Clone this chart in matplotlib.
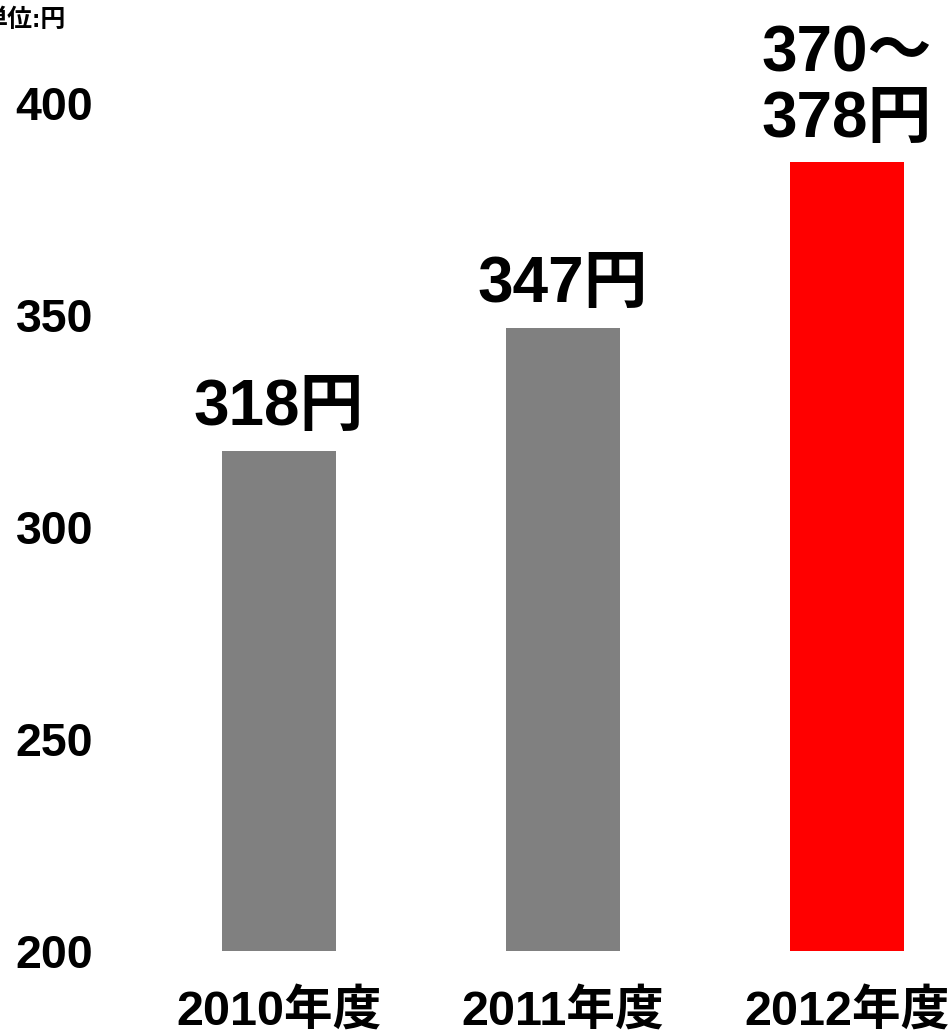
import matplotlib
matplotlib.use("Agg")
import matplotlib.pyplot as plt

plt.rcParams['font.family'] = ['Liberation Sans', 'Noto Sans CJK JP', 'DejaVu Sans']
plt.rcParams['font.weight'] = 'bold'

# data
years = ["2010年度", "2011年度", "2012年度"]
values = [318, 347, 386]
value_labels = ["318円", "347円", "370～\n378円"]
colors = ["#808080", "#808080", "#FF0000"]
yticks = [200, 250, 300, 350, 400]

fig = plt.figure(figsize=(9.52, 10.33), dpi=100)
ax = fig.add_axes([100 / 952, 82 / 1033, 852 / 952, 848 / 1033])

x = range(len(years))
ax.bar(x, [v - 200 for v in values], bottom=200, width=0.4, color=colors)

for i, (v, lbl) in enumerate(zip(values, value_labels)):
    ax.annotate(lbl, (i, v), xytext=(0, 9), textcoords="offset points",
                ha="center", va="bottom", fontsize=46, fontweight="bold",
                linespacing=1.12, annotation_clip=False)

ax.set_xlim(-0.63, 2.37)
ax.set_ylim(200, 400)
ax.set_yticks(yticks)
ax.set_yticklabels([str(t) for t in yticks], fontsize=33.5, fontweight="bold")
ax.set_xticks(list(x))
ax.set_xticklabels(years, fontsize=35, fontweight="bold")
ax.tick_params(axis="y", length=0, pad=5)
ax.tick_params(axis="x", length=0, pad=27)
for s in ax.spines.values():
    s.set_visible(False)

# unit label, cut at the left edge as in the original slide
fig.text(66 / 952, 1 - 20 / 1033, "単位:円", ha="right", va="center",
         fontsize=18, fontweight="bold")

fig.savefig("out.png", dpi=100)
